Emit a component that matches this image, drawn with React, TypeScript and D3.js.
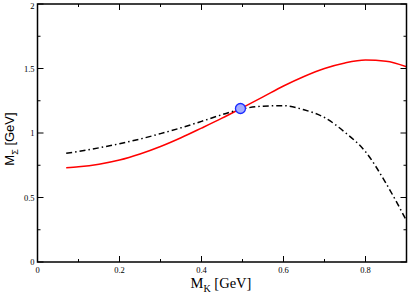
import React from "react";
import * as d3 from "d3";

const xValues = [0.07, 0.1, 0.15, 0.2, 0.25, 0.3, 0.35, 0.4, 0.45, 0.5, 0.55, 0.6, 0.65, 0.7, 0.75, 0.8, 0.85, 0.9];
const redValues = [0.731, 0.738, 0.758, 0.79, 0.837, 0.895, 0.963, 1.038, 1.115, 1.197, 1.28, 1.364, 1.438, 1.5, 1.543, 1.565, 1.557, 1.514];
const blackValues = [0.843, 0.857, 0.885, 0.917, 0.953, 0.995, 1.04, 1.09, 1.142, 1.187, 1.208, 1.212, 1.18, 1.12, 1.005, 0.855, 0.61, 0.32];
const markerPoint = [0.495, 1.19];
const xTicks = [0, 0.2, 0.4, 0.6, 0.8];
const xMinorTicks = [0.1, 0.3, 0.5, 0.7];
const yTicks = [0, 0.5, 1, 1.5, 2];
const yMinorTicks = [0.25, 0.75, 1.25, 1.75];

const W = 408, H = 294;
const L = 37.5, R = 406.5, T = 4, B = 262;

export default function App() {
  const x = d3.scaleLinear().domain([0, 0.9]).range([L, R]);
  const y = d3.scaleLinear().domain([0, 2]).range([B, T]);
  const line = d3.line<number>().x((_, i) => x(xValues[i])).y((d) => y(d)).curve(d3.curveMonotoneX);
  const fmt = (v: number) => (v === 0 ? "0" : String(v));
  const major = 6, minor = 3;
  const tickFont = "Liberation Serif, 'DejaVu Serif', serif";
  return (
    <svg width={W} height={H} style={{ position: "absolute", left: 0, top: 0 }}>
      <rect x={0} y={0} width={W} height={H} fill="white" />
      <path d={line(redValues) || ""} fill="none" stroke="#ff0000" strokeWidth={1.5} />
      <path d={line(blackValues) || ""} fill="none" stroke="#000" strokeWidth={1.5} strokeDasharray="6,3,1.5,3" />
      <circle cx={x(markerPoint[0])} cy={y(markerPoint[1])} r={5} fill="#a4acff" stroke="#1a2bff" strokeWidth={1.3} />
      {xTicks.map((t) => (
        <g key={"xt" + t}>
          <line x1={x(t)} x2={x(t)} y1={B} y2={B - major} stroke="#000" />
          <line x1={x(t)} x2={x(t)} y1={T} y2={T + major} stroke="#000" />
          <text x={x(t)} y={273} fontSize={8.5} fontFamily={tickFont} textAnchor="middle">{fmt(t)}</text>
        </g>
      ))}
      {xMinorTicks.map((t) => (
        <g key={"xm" + t}>
          <line x1={x(t)} x2={x(t)} y1={B} y2={B - minor} stroke="#000" />
          <line x1={x(t)} x2={x(t)} y1={T} y2={T + minor} stroke="#000" />
        </g>
      ))}
      {yTicks.map((t) => (
        <g key={"yt" + t}>
          <line x1={L} x2={L + major} y1={y(t)} y2={y(t)} stroke="#000" />
          <line x1={R} x2={R - major} y1={y(t)} y2={y(t)} stroke="#000" />
          <text x={34.5} y={t === 2 ? y(t) + 4.5 : y(t) + 3} fontSize={8.5} fontFamily={tickFont} textAnchor="end">{fmt(t)}</text>
        </g>
      ))}
      {yMinorTicks.map((t) => (
        <g key={"ym" + t}>
          <line x1={L} x2={L + minor} y1={y(t)} y2={y(t)} stroke="#000" />
          <line x1={R} x2={R - minor} y1={y(t)} y2={y(t)} stroke="#000" />
        </g>
      ))}
      <rect x={L} y={T} width={R - L} height={B - T} fill="none" stroke="#000" strokeWidth={1.5} />
      <text x={221} y={287.5} fontSize={14.5} fontFamily={tickFont} textAnchor="middle">
        M<tspan fontSize={10} dy={4}>K</tspan><tspan dy={-4}> [GeV]</tspan>
      </text>
      <text transform={`translate(14,139) rotate(-90)`} fontSize={13} fontFamily="Liberation Sans, Arial, sans-serif" textAnchor="middle">
        M<tspan fontSize={9} dy={3.5}>Σ</tspan><tspan dy={-3.5}> [GeV]</tspan>
      </text>
    </svg>
  );
}
